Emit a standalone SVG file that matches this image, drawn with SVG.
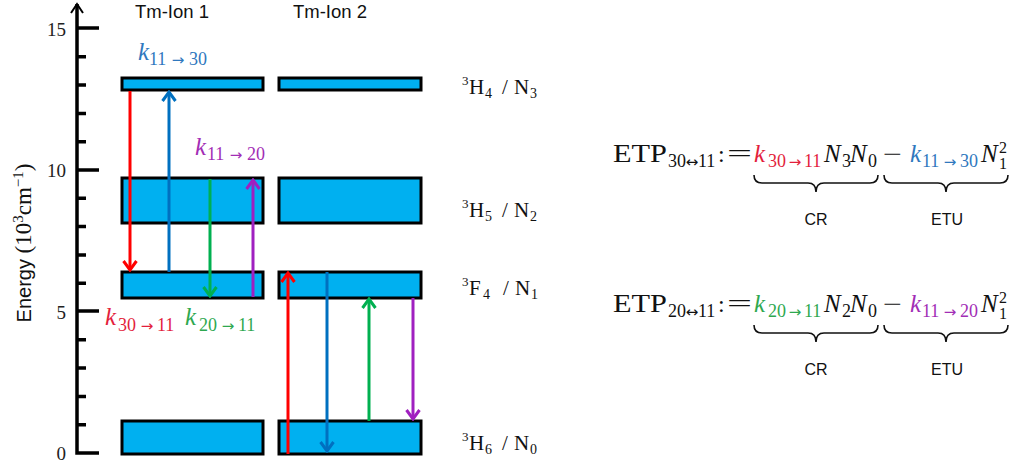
<svg xmlns="http://www.w3.org/2000/svg" width="1019" height="469" viewBox="0 0 1019 469">
<style>
.lvl{fill:#00B0F0;stroke:#000;stroke-width:3}
.ax{stroke:#000;stroke-width:3.5;fill:none}
.tk{font-family:"Liberation Serif","DejaVu Serif",serif;font-size:19px;fill:#222}
.sans{font-family:"Liberation Sans",Arial,sans-serif;fill:#111}
.ser{font-family:"Liberation Serif","DejaVu Serif",serif;fill:#111}
.it{font-style:italic}
.d{font-size:18px}
.ar{font-family:"DejaVu Sans",sans-serif;font-size:15px}
.arr{stroke-width:3;fill:none}
.br{stroke:#111;stroke-width:1.6;fill:none}
.red{fill:#E31E3C}.blu{fill:#2F78BE}.grn{fill:#2EA84F}.pur{fill:#A22DB5}
</style>
<defs>
<marker id="mr" markerUnits="userSpaceOnUse" markerWidth="14" markerHeight="16" viewBox="0 0 14 16" refX="12" refY="8" orient="auto"><path d="M3,1.5 L12,8 L3,14.5" fill="none" stroke="#FF0000" stroke-width="3"/></marker>
<marker id="mb" markerUnits="userSpaceOnUse" markerWidth="14" markerHeight="16" viewBox="0 0 14 16" refX="12" refY="8" orient="auto"><path d="M3,1.5 L12,8 L3,14.5" fill="none" stroke="#0070C0" stroke-width="3"/></marker>
<marker id="mg" markerUnits="userSpaceOnUse" markerWidth="14" markerHeight="16" viewBox="0 0 14 16" refX="12" refY="8" orient="auto"><path d="M3,1.5 L12,8 L3,14.5" fill="none" stroke="#00B050" stroke-width="3"/></marker>
<marker id="mp" markerUnits="userSpaceOnUse" markerWidth="14" markerHeight="16" viewBox="0 0 14 16" refX="12" refY="8" orient="auto"><path d="M3,1.5 L12,8 L3,14.5" fill="none" stroke="#A020C0" stroke-width="3"/></marker>
<marker id="mk" markerUnits="userSpaceOnUse" markerWidth="14" markerHeight="16" viewBox="0 0 14 16" refX="12" refY="8" orient="auto"><path d="M3,2 L12,8 L3,14" fill="none" stroke="#000" stroke-width="2"/></marker>
</defs>

<g id="axis">
<path class="ax" d="M99,453 L77,453 L77,4" marker-end="url(#mk)"/>
<path class="ax" d="M77,28 H99 M77,170 H99 M77,311 H99"/>
<path class="ax" d="M77,56.8 H86 M77,85.1 H86 M77,113.4 H86 M77,141.7 H86 M77,198.3 H86 M77,226.6 H86 M77,254.9 H86 M77,283.2 H86 M77,339.8 H86 M77,368.1 H86 M77,396.4 H86 M77,424.7 H86"/>
<text class="tk" x="66" y="36" text-anchor="end">15</text>
<text class="tk" x="66" y="177" text-anchor="end">10</text>
<text class="tk" x="66" y="319" text-anchor="end">5</text>
<text class="tk" x="66" y="460" text-anchor="end">0</text>
<text transform="translate(31,243) rotate(-90)" text-anchor="middle"><tspan class="sans" font-size="20">Energy </tspan><tspan class="ser" font-size="23">(10</tspan><tspan class="ser" font-size="15" dy="-8">3</tspan><tspan class="ser" font-size="23" dy="8">cm</tspan><tspan class="ser" font-size="15" dy="-8">−1</tspan><tspan class="ser" font-size="23" dy="8">)</tspan></text>
</g>

<g id="titles">
<text class="sans" x="135" y="18" font-size="18.5">Tm-Ion 1</text>
<text class="sans" x="293" y="18" font-size="18.5">Tm-Ion 2</text>
</g>

<g id="level-3H4">
<rect class="lvl" x="122" y="78" width="141" height="12"/>
<rect class="lvl" x="279" y="78" width="142" height="12"/>
<text class="ser"><tspan x="462" y="85" font-size="13">3</tspan><tspan x="469" y="94" font-size="21">H</tspan><tspan x="485" y="98" font-size="14">4</tspan><tspan x="502" y="94" font-size="21">/</tspan><tspan x="514" y="94" font-size="21">N</tspan><tspan x="530" y="98" font-size="14">3</tspan></text>
</g>
<g id="level-3H5">
<rect class="lvl" x="122" y="178" width="141" height="45"/>
<rect class="lvl" x="279" y="178" width="142" height="45"/>
<text class="ser"><tspan x="462" y="208" font-size="13">3</tspan><tspan x="469" y="217" font-size="21">H</tspan><tspan x="485" y="221" font-size="14">5</tspan><tspan x="502" y="217" font-size="21">/</tspan><tspan x="514" y="217" font-size="21">N</tspan><tspan x="530" y="221" font-size="14">2</tspan></text>
</g>
<g id="level-3F4">
<rect class="lvl" x="122" y="272" width="141" height="26"/>
<rect class="lvl" x="279" y="272" width="142" height="26"/>
<text class="ser"><tspan x="462" y="286" font-size="13">3</tspan><tspan x="469" y="295" font-size="21">F</tspan><tspan x="483" y="299" font-size="14">4</tspan><tspan x="503" y="295" font-size="21">/</tspan><tspan x="515" y="295" font-size="21">N</tspan><tspan x="531" y="299" font-size="14">1</tspan></text>
</g>
<g id="level-3H6">
<rect class="lvl" x="122" y="421" width="141" height="33"/>
<rect class="lvl" x="279" y="421" width="142" height="33"/>
<text class="ser"><tspan x="462" y="441" font-size="13">3</tspan><tspan x="469" y="450" font-size="21">H</tspan><tspan x="485" y="454" font-size="14">6</tspan><tspan x="502" y="450" font-size="21">/</tspan><tspan x="514" y="450" font-size="21">N</tspan><tspan x="530" y="454" font-size="14">0</tspan></text>
</g>

<g id="connectors">
<line class="arr" x1="130" y1="91" x2="130" y2="270" stroke="#FF0000" marker-end="url(#mr)"/>
<line class="arr" x1="169" y1="272" x2="169" y2="92" stroke="#0070C0" marker-end="url(#mb)"/>
<line class="arr" x1="210" y1="179" x2="210" y2="296" stroke="#00B050" marker-end="url(#mg)"/>
<line class="arr" x1="253" y1="297" x2="253" y2="180" stroke="#A020C0" marker-end="url(#mp)"/>
<line class="arr" x1="288" y1="454" x2="288" y2="273" stroke="#FF0000" marker-end="url(#mr)"/>
<line class="arr" x1="327" y1="272" x2="327" y2="451" stroke="#0070C0" marker-end="url(#mb)"/>
<line class="arr" x1="369" y1="421" x2="369" y2="299" stroke="#00B050" marker-end="url(#mg)"/>
<line class="arr" x1="413" y1="298" x2="413" y2="419" stroke="#A020C0" marker-end="url(#mp)"/>
</g>

<g id="rate-labels" class="ser">
<text class="blu"><tspan x="138" y="60" font-size="25" class="it">k</tspan><tspan class="d" x="149" y="65">11</tspan><tspan class="ar" x="178" y="65" text-anchor="middle">→</tspan><tspan class="d" x="189" y="65">30</tspan></text>
<text class="pur"><tspan x="195" y="155" font-size="25" class="it">k</tspan><tspan class="d" x="207" y="160">11</tspan><tspan class="ar" x="236" y="160" text-anchor="middle">→</tspan><tspan class="d" x="247" y="160">20</tspan></text>
<text class="red"><tspan x="105" y="325" font-size="25" class="it">k</tspan><tspan class="d" x="118" y="331">30</tspan><tspan class="ar" x="147" y="331" text-anchor="middle">→</tspan><tspan class="d" x="157" y="331">11</tspan></text>
<text class="grn"><tspan x="185" y="325" font-size="25" class="it">k</tspan><tspan class="d" x="199" y="331">20</tspan><tspan class="ar" x="228" y="331" text-anchor="middle">→</tspan><tspan class="d" x="238" y="331">11</tspan></text>
</g>

<g id="equation-1" class="ser">
<text x="613" y="162" font-size="25" textLength="54" lengthAdjust="spacingAndGlyphs">ETP</text>
<text y="167"><tspan class="d" x="668">30</tspan><tspan class="ar" x="692" text-anchor="middle">↔</tspan><tspan class="d" x="698">11</tspan></text>
<text x="718" y="162" font-size="24">:</text>
<text x="727" y="162" font-size="26" textLength="25" lengthAdjust="spacingAndGlyphs">=</text>
<text x="754" y="162" font-size="25" class="it red">k</text>
<text y="167" class="red"><tspan class="d" x="768">30</tspan><tspan class="ar" x="795" text-anchor="middle">→</tspan><tspan class="d" x="804">11</tspan></text>
<text x="824" y="162" font-size="25" class="it">N</text>
<text x="842" y="167" class="d">3</text>
<text x="850" y="162" font-size="25" class="it">N</text>
<text x="868" y="167" class="d">0</text>
<text x="883" y="162" font-size="24" textLength="19" lengthAdjust="spacingAndGlyphs">−</text>
<text x="910" y="162" font-size="25" class="it blu">k</text>
<text y="167" class="blu"><tspan class="d" x="922">11</tspan><tspan class="ar" x="950" text-anchor="middle">→</tspan><tspan class="d" x="960">30</tspan></text>
<text x="981" y="162" font-size="25" class="it">N</text>
<text x="999" y="169" font-size="16">1</text>
<text x="999" y="153" font-size="16">2</text>
<path class="br" d="M754,175 Q754,183 762,183 L808,183 Q816,183 816,192 Q816,183 824,183 L870,183 Q878,183 878,175"/>
<path class="br" d="M884,175 Q884,183 892,183 L938,183 Q946,183 946,192 Q946,183 954,183 L1000,183 Q1008,183 1008,175"/>
<text class="sans" x="816" y="225" font-size="16" text-anchor="middle">CR</text>
<text class="sans" x="947" y="225" font-size="16" text-anchor="middle">ETU</text>
</g>

<g id="equation-2" class="ser">
<text x="613" y="312" font-size="25" textLength="54" lengthAdjust="spacingAndGlyphs">ETP</text>
<text y="317"><tspan class="d" x="668">20</tspan><tspan class="ar" x="692" text-anchor="middle">↔</tspan><tspan class="d" x="698">11</tspan></text>
<text x="718" y="312" font-size="24">:</text>
<text x="727" y="312" font-size="26" textLength="25" lengthAdjust="spacingAndGlyphs">=</text>
<text x="754" y="312" font-size="25" class="it grn">k</text>
<text y="317" class="grn"><tspan class="d" x="768">20</tspan><tspan class="ar" x="795" text-anchor="middle">→</tspan><tspan class="d" x="804">11</tspan></text>
<text x="824" y="312" font-size="25" class="it">N</text>
<text x="842" y="317" class="d">2</text>
<text x="850" y="312" font-size="25" class="it">N</text>
<text x="868" y="317" class="d">0</text>
<text x="883" y="312" font-size="24" textLength="19" lengthAdjust="spacingAndGlyphs">−</text>
<text x="910" y="312" font-size="25" class="it pur">k</text>
<text y="317" class="pur"><tspan class="d" x="922">11</tspan><tspan class="ar" x="950" text-anchor="middle">→</tspan><tspan class="d" x="960">20</tspan></text>
<text x="981" y="312" font-size="25" class="it">N</text>
<text x="999" y="319" font-size="16">1</text>
<text x="999" y="303" font-size="16">2</text>
<path class="br" d="M754,325 Q754,333 762,333 L808,333 Q816,333 816,342 Q816,333 824,333 L870,333 Q878,333 878,325"/>
<path class="br" d="M884,325 Q884,333 892,333 L938,333 Q946,333 946,342 Q946,333 954,333 L1000,333 Q1008,333 1008,325"/>
<text class="sans" x="816" y="375" font-size="16" text-anchor="middle">CR</text>
<text class="sans" x="947" y="375" font-size="16" text-anchor="middle">ETU</text>
</g>
</svg>
